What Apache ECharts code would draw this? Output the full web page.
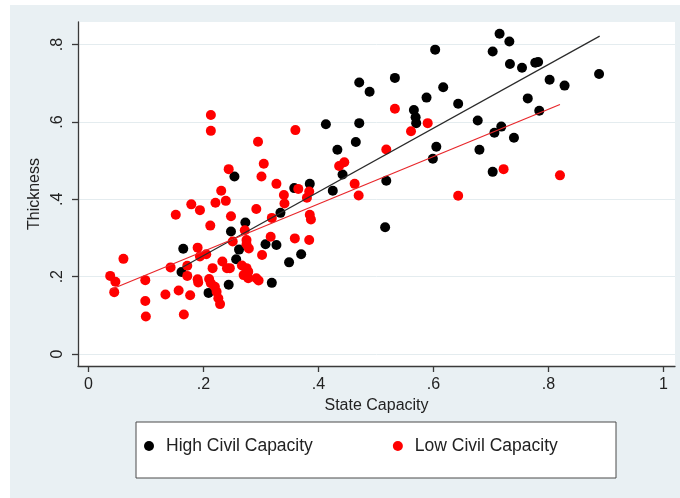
<!DOCTYPE html>
<html><head><meta charset="utf-8">
<script src="https://cdn.jsdelivr.net/npm/echarts@6/dist/echarts.min.js"></script>
<style>html,body{margin:0;padding:0;background:#fff}#c{width:680px;height:498px}</style>
</head><body><div id="c"></div>
<script>
const xTicks = [0, 0.2, 0.4, 0.6, 0.8, 1];
const yTicks = [0, 0.2, 0.4, 0.6, 0.8];
const seriesNames = ['High Civil Capacity', 'Low Civil Capacity'];

const highCivil = [
  [0.165,0.272],[0.162,0.212],[0.209,0.158],[0.244,0.179],[0.248,0.317],[0.254,0.459],
  [0.257,0.245],[0.262,0.270],[0.273,0.340],[0.308,0.284],[0.327,0.282],[0.319,0.184],
  [0.334,0.365],[0.349,0.237],[0.370,0.258],[0.358,0.429],[0.385,0.440],[0.413,0.594],
  [0.425,0.422],[0.433,0.528],[0.442,0.464],[0.465,0.548],[0.471,0.597],[0.471,0.702],
  [0.489,0.678],[0.516,0.328],[0.518,0.448],[0.533,0.714],[0.566,0.631],[0.569,0.612],
  [0.570,0.597],[0.588,0.663],[0.599,0.505],[0.603,0.787],[0.605,0.536],[0.617,0.690],
  [0.643,0.647],[0.677,0.604],[0.680,0.528],[0.703,0.782],[0.703,0.471],[0.706,0.572],
  [0.715,0.828],[0.718,0.588],[0.732,0.808],[0.733,0.750],[0.740,0.559],[0.754,0.740],
  [0.764,0.661],[0.777,0.753],[0.782,0.755],[0.784,0.629],[0.802,0.709],[0.828,0.694],
  [0.888,0.724]
];

const lowCivil = [
  [0.213,0.618],[0.213,0.577],[0.295,0.549],[0.360,0.579],[0.305,0.492],[0.244,0.478],
  [0.301,0.459],[0.327,0.440],[0.340,0.411],[0.365,0.427],[0.384,0.420],[0.380,0.404],
  [0.231,0.422],[0.179,0.387],[0.194,0.372],[0.221,0.391],[0.239,0.396],[0.292,0.375],
  [0.152,0.360],[0.248,0.356],[0.212,0.332],[0.319,0.352],[0.341,0.389],[0.385,0.360],
  [0.387,0.348],[0.272,0.320],[0.359,0.299],[0.384,0.295],[0.317,0.303],[0.251,0.291],
  [0.275,0.295],[0.190,0.275],[0.194,0.252],[0.205,0.258],[0.302,0.256],[0.275,0.284],
  [0.279,0.273],
  [0.533,0.634],[0.590,0.597],[0.561,0.576],[0.518,0.529],[0.445,0.496],[0.436,0.486],
  [0.463,0.440],[0.470,0.410],[0.643,0.409],[0.722,0.478],[0.820,0.462],
  [0.061,0.246],[0.038,0.202],[0.047,0.187],[0.045,0.160],[0.099,0.191],[0.099,0.137],
  [0.100,0.097],[0.143,0.224],[0.134,0.154],[0.157,0.164],[0.177,0.152],[0.166,0.102],
  [0.172,0.202],[0.172,0.228],[0.190,0.193],[0.191,0.185],[0.216,0.222],[0.210,0.194],
  [0.213,0.183],[0.220,0.174],[0.223,0.161],[0.226,0.144],[0.229,0.129],[0.233,0.239],
  [0.241,0.222],[0.246,0.222],[0.267,0.229],[0.275,0.222],[0.278,0.213],[0.270,0.204],
  [0.278,0.196],[0.292,0.196],[0.296,0.190]
];

// fitted lines (endpoints)
const highFit = [[0.162,0.223],[0.889,0.822]];
const lowFit = [[0.038,0.166],[0.820,0.645]];

const fmt = v => {
  const r = Math.round(v * 10) / 10;
  if (r === 0) return '0';
  if (r === 1) return '1';
  return String(r).replace(/^0/, '');
};

const FONT = 'Liberation Sans, Arial, sans-serif';
const AX = '#3a3a3a';

const chart = echarts.init(document.getElementById('c'), null, {renderer: 'canvas'});
chart.setOption({
  backgroundColor: '#ffffff',
  animation: false,
  graphic: [
    {type: 'rect', z: -10, silent: true, shape: {x: 10, y: 5, width: 670, height: 493},
     style: {fill: '#e9f0f3'}},
    {type: 'rect', z: 1, silent: true, shape: {x: 136, y: 422, width: 480, height: 56},
     style: {fill: '#ffffff', stroke: '#4a4a4a', lineWidth: 1}}
  ],
  grid: {left: 78, right: 5, top: 22, bottom: 132, show: true,
         backgroundColor: '#ffffff', borderWidth: 0},
  legend: {
    data: seriesNames, left: 144, top: 437, padding: 0, itemGap: 80,
    itemWidth: 24, itemHeight: 10, icon: 'circle', z: 5,
    itemStyle: {opacity: 1},
    textStyle: {fontFamily: FONT, fontSize: 17.5, color: '#222'}
  },
  xAxis: {
    type: 'value', min: -0.018, max: 1.02,
    name: 'State Capacity', nameLocation: 'middle', nameGap: 30,
    nameTextStyle: {fontFamily: FONT, fontSize: 16, color: '#222'},
    axisLine: {show: true, onZero: false, lineStyle: {color: AX, width: 1.3}},
    axisTick: {show: true, length: 6, lineStyle: {color: AX, width: 1.3}, customValues: xTicks},
    axisLabel: {customValues: xTicks, formatter: fmt, margin: 11,
                fontFamily: FONT, fontSize: 16, color: '#222'},
    splitLine: {show: false}
  },
  yAxis: {
    type: 'value', min: -0.031, max: 0.8585,
    name: 'Thickness', nameLocation: 'middle', nameGap: 33, nameRotate: 90,
    nameTextStyle: {fontFamily: FONT, fontSize: 16, color: '#222'},
    axisLine: {show: true, onZero: false, lineStyle: {color: AX, width: 1.3}},
    axisTick: {show: true, length: 6, lineStyle: {color: AX, width: 1.3}, customValues: yTicks},
    axisLabel: {customValues: yTicks, formatter: fmt, rotate: 90, margin: 12,
                fontFamily: FONT, fontSize: 16, color: '#222'},
    splitLine: {show: true, lineStyle: {color: '#e4ecef', width: 1}}
  },
  series: [
    {name: seriesNames[0], type: 'scatter', data: highCivil, symbolSize: 10,
     itemStyle: {color: '#000000', opacity: 1}, z: 2},
    {name: seriesNames[1], type: 'scatter', data: lowCivil, symbolSize: 10,
     itemStyle: {color: '#ff0000', opacity: 1}, z: 3},
    {name: 'fitHigh', type: 'line', data: highFit, showSymbol: false, z: 4,
     lineStyle: {color: '#2b2b2b', width: 1.2}, silent: true},
    {name: 'fitLow', type: 'line', data: lowFit, showSymbol: false, z: 4,
     lineStyle: {color: '#e8262a', width: 1.2}, silent: true}
  ]
});
</script></body></html>
